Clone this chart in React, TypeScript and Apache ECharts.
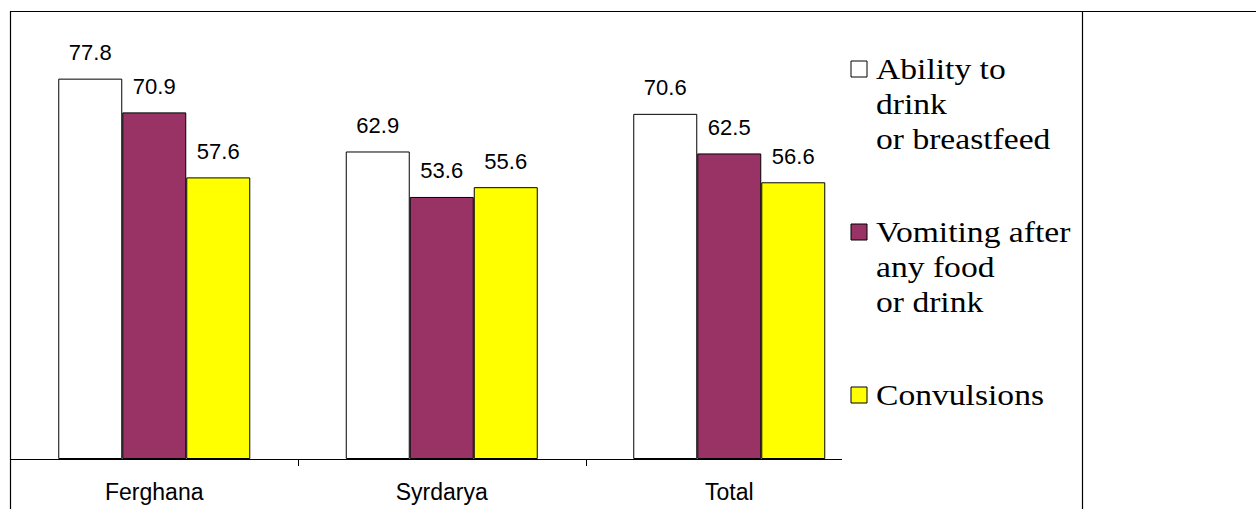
import React, { useEffect, useRef } from "react";
import * as echarts from "echarts";

const categories = ["Ferghana", "Syrdarya", "Total"];
const seriesNames = ["Ability to drink or breastfeed", "Vomiting after any food or drink", "Convulsions"];
const legendLines = [
  "Ability to\ndrink\nor breastfeed",
  "Vomiting after\nany food\nor drink",
  "Convulsions",
];
const abilityValues = [77.8, 62.9, 70.6];
const vomitingValues = [70.9, 53.6, 62.5];
const convulsionValues = [57.6, 55.6, 56.6];
const seriesValues = [abilityValues, vomitingValues, convulsionValues];
const colors = ["#FFFFFF", "#993366", "#FFFF00"];

const W = 1256;
const H = 509;
const GRID_LEFT = 10.5;
const GRID_WIDTH = 862.5;
const GRID_TOP = 19;
const AXIS_Y = 459;

export default function App() {
  const ref = useRef<HTMLDivElement>(null);

  useEffect(() => {
    if (!ref.current) return;
    const chart = echarts.init(ref.current, null, { renderer: "svg" });
    const catW = GRID_WIDTH / categories.length;
    const tickEls: any[] = [];
    for (let k = 1; k < categories.length; k++) {
      const x = Math.round(GRID_LEFT + catW * k) + 0.5;
      tickEls.push({
        type: "line",
        shape: { x1: x, y1: AXIS_Y, x2: x, y2: AXIS_Y + 7 },
        style: { stroke: "#000", lineWidth: 1 },
      });
    }
    const legendTops = [52, 215, 378];
    const legendEls: any[] = [];
    legendLines.forEach((t, i) => {
      legendEls.push({
        type: "rect",
        shape: { x: 851, y: legendTops[i] + 9, width: 16, height: 16 },
        style: { fill: colors[i], stroke: "#000", lineWidth: 1 },
      });
      legendEls.push({
        type: "text",
        x: 876,
        y: legendTops[i],
        scaleX: 1.12,
        style: {
          text: t,
          font: '30px "Liberation Serif", "Times New Roman", serif',
          fill: "#000",
          lineHeight: 35,
          verticalAlign: "top",
          align: "left",
        },
      });
    });

    chart.setOption({
      animation: false,
      backgroundColor: "#fff",
      grid: {
        left: GRID_LEFT,
        width: GRID_WIDTH,
        top: GRID_TOP,
        bottom: H - AXIS_Y,
        containLabel: false,
      },
      xAxis: {
        type: "category",
        data: categories,
        axisLine: { show: false },
        axisTick: { show: false },
        axisLabel: {
          margin: 21,
          color: "#000",
          fontSize: 23,
          fontFamily: '"Liberation Sans", Arial, sans-serif',
        },
        splitLine: { show: false },
      },
      yAxis: {
        type: "value",
        min: 0,
        max: 90,
        show: false,
        splitLine: { show: false },
      },
      series: seriesValues.map((vals, i) => ({
        name: seriesNames[i],
        type: "bar",
        data: vals,
        barWidth: 64,
        barGap: "0%",
        itemStyle: { color: colors[i], borderColor: "#000", borderWidth: 1 },
        label: {
          show: true,
          position: "top",
          distance: 15,
          formatter: (p: any) => Number(p.value).toFixed(1),
          color: "#000",
          fontSize: 22,
          fontFamily: '"Liberation Sans", Arial, sans-serif',
        },
      })),
      graphic: [
        {
          type: "line",
          shape: { x1: 10, y1: 11.5, x2: W, y2: 11.5 },
          style: { stroke: "#000", lineWidth: 1.2 },
        },
        {
          type: "line",
          shape: { x1: 10.5, y1: 11, x2: 10.5, y2: H },
          style: { stroke: "#000", lineWidth: 1.2 },
        },
        {
          type: "line",
          shape: { x1: 1082.5, y1: 11, x2: 1082.5, y2: H },
          style: { stroke: "#000", lineWidth: 1.2 },
        },
        {
          type: "line",
          shape: { x1: 10, y1: AXIS_Y + 0.5, x2: 842, y2: AXIS_Y + 0.5 },
          style: { stroke: "#000", lineWidth: 1 },
        },
        ...tickEls,
        ...legendEls,
      ],
    });
    return () => chart.dispose();
  }, []);

  return (
    <div
      ref={ref}
      style={{ position: "fixed", left: 0, top: 0, width: W, height: H, background: "#fff" }}
    />
  );
}
